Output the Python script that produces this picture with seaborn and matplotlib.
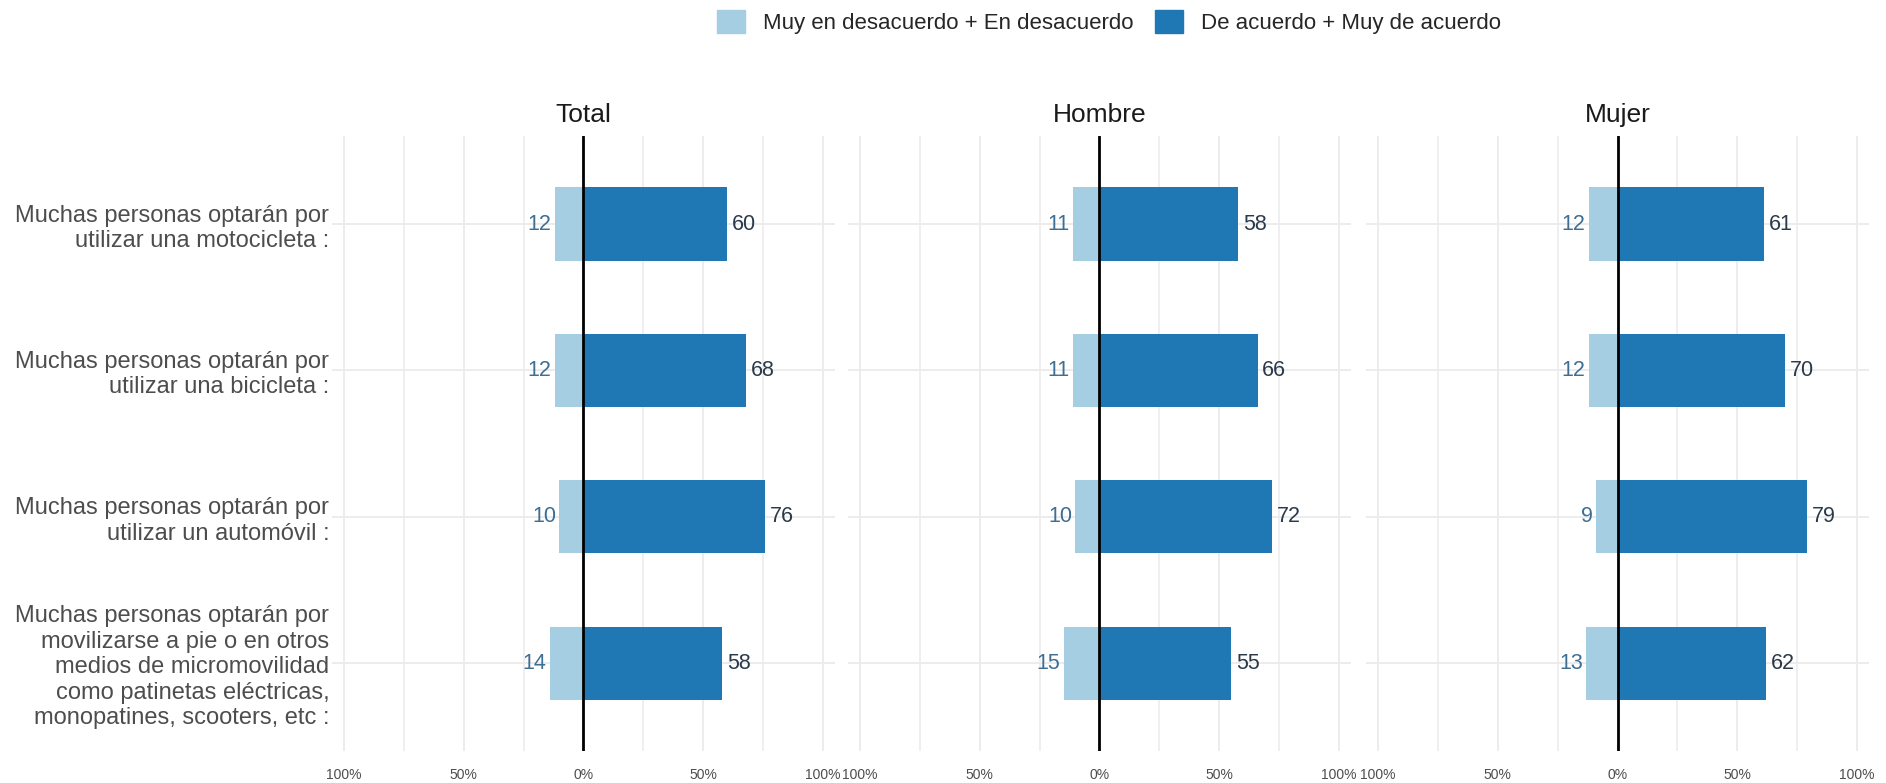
import numpy as np
import pandas as pd
import matplotlib
matplotlib.use("Agg")
import matplotlib.pyplot as plt
import seaborn as sns
from matplotlib.patches import Patch
from matplotlib.ticker import FixedLocator

# data
items = [
    "Muchas personas optarán por\nutilizar una motocicleta :",
    "Muchas personas optarán por\nutilizar una bicicleta :",
    "Muchas personas optarán por\nutilizar un automóvil :",
    "Muchas personas optarán por\nmovilizarse a pie o en otros\nmedios de micromovilidad\ncomo patinetas eléctricas,\nmonopatines, scooters, etc :",
]
groups = ["Total", "Hombre", "Mujer"]
desacuerdo = {
    "Total": [12, 12, 10, 14],
    "Hombre": [11, 11, 10, 15],
    "Mujer": [12, 12, 9, 13],
}
acuerdo = {
    "Total": [60, 68, 76, 58],
    "Hombre": [58, 66, 72, 55],
    "Mujer": [61, 70, 79, 62],
}
neg_name = "Muy en desacuerdo + En desacuerdo"
pos_name = "De acuerdo + Muy de acuerdo"
colors = {neg_name: "#a6cee3", pos_name: "#1f78b4"}

sns.set_theme(style="white")
plt.rcParams['font.family'] = ['Liberation Sans', 'DejaVu Sans']

fig = plt.figure(figsize=(18.86, 7.83), dpi=100)
lefts = [0.176, 0.4496, 0.7243]
axes = [fig.add_axes([l, 0.041, 0.2667, 0.785]) for l in lefts]

for ax, g in zip(axes, groups):
    df = pd.DataFrame({
        "item": items * 2,
        "value": [-v for v in desacuerdo[g]] + acuerdo[g],
        "tipo": [neg_name] * 4 + [pos_name] * 4,
    })
    sns.barplot(data=df, y="item", x="value", hue="tipo", palette=colors,
                dodge=False, width=0.5, orient="h", ax=ax, legend=False,
                saturation=1, zorder=3, linewidth=0)
    for i, (n, p) in enumerate(zip(desacuerdo[g], acuerdo[g])):
        ax.text(-n - 1.5, i, str(n), ha="right", va="center",
                fontsize=15.5, color="#3d6e94", zorder=4)
        ax.text(p + 2, i, str(p), ha="left", va="center",
                fontsize=15.5, color="#2b3a4a", zorder=4)
    ax.axvline(0, color="black", lw=2, zorder=5)
    ax.set_xlim(-105, 105)
    ax.set_ylim(3.6, -0.6)
    ax.xaxis.set_major_locator(FixedLocator([-100, -50, 0, 50, 100]))
    ax.xaxis.set_minor_locator(FixedLocator([-75, -25, 25, 75]))
    ax.set_xticklabels(["100%", "50%", "0%", "50%", "100%"])
    ax.grid(True, which="major", color="#ebebeb", lw=1.3, zorder=0)
    ax.grid(True, which="minor", axis="x", color="#ebebeb", lw=1.1, zorder=0)
    ax.set_axisbelow(True)
    ax.tick_params(axis="x", length=0, labelsize=10, labelcolor="#4d4d4d", pad=12)
    ax.tick_params(axis="y", length=0, labelsize=17, labelcolor="#4d4d4d", pad=2)
    for s in ax.spines.values():
        s.set_visible(False)
    ax.set_xlabel("")
    ax.set_ylabel("")
    ax.set_title(g, fontsize=19, color="#1a1a1a", pad=10)
    if g != "Total":
        ax.set_yticklabels([])
    else:
        for lab in ax.get_yticklabels():
            lab.set_linespacing(1.2)

handles = [Patch(color=colors[neg_name]), Patch(color=colors[pos_name])]
fig.legend(handles, [neg_name, pos_name], loc="center", ncol=2,
           bbox_to_anchor=(0.588, 0.972), frameon=False, fontsize=16,
           handlelength=1.25, handleheight=1.2, handletextpad=0.8,
           columnspacing=1.0)

fig.savefig("out.png", dpi=100)
